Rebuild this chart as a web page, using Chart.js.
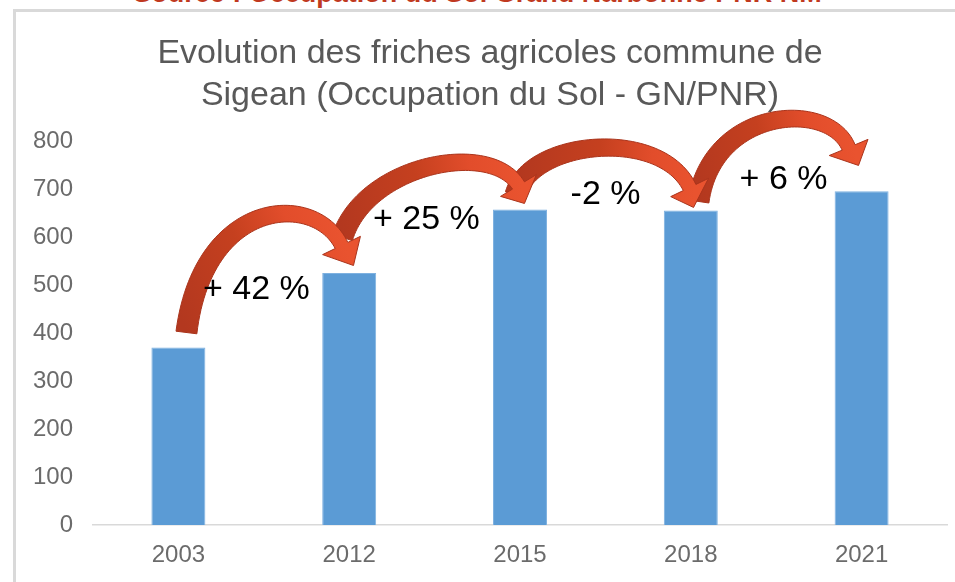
<!DOCTYPE html>
<html>
<head>
<meta charset="utf-8">
<script src="https://cdn.jsdelivr.net/npm/chart.js@4"></script>
<style>
  html, body { margin: 0; padding: 0; background: #fff; overflow: hidden; }
  #page { position: relative; width: 955px; height: 582px; overflow: hidden; background: #fff; }
  #source { position: absolute; left: 0; width: 955px; top: -22px; text-align: center;
            font: bold 27px "Liberation Sans", Arial, sans-serif; color: #c0391f; line-height: 30px; white-space: nowrap; }
  #frame { position: absolute; left: 13px; top: 9px; width: 1000px; height: 700px;
           border-left: 3px solid #d9d9d9; border-top: 3px solid #d9d9d9; box-sizing: border-box; background: #fff; }
  #wrap { position: absolute; left: 0; top: 0; width: 955px; height: 582px; }
</style>
</head>
<body>
<div id="page">
  <div id="frame"></div>
  <div id="source">Source : Occupation du Sol Grand Narbonne PNR NM</div>
  <div id="wrap"><canvas id="c" width="955" height="582"></canvas></div>
</div>
<script>
// ---- data ----
const categories = ["2003", "2012", "2015", "2018", "2021"];
const values = [370, 525, 657, 655, 695];
const yTicks = [0, 100, 200, 300, 400, 500, 600, 700, 800];
const titleLines = ["Evolution des friches agricoles commune de", "Sigean (Occupation du Sol - GN/PNR)"];
const changeLabels = ["+ 42 %", "+ 25 %", "-2 %", "+ 6 %"];
// label anchors in data space: [category position, value]
const changeLabelPos = [[0.457, 490.6], [1.452, 636.5], [2.501, 688.5], [3.543, 719.8]];
// curved arrows in data space: tail, control1, control2, head base, tip
const arrow1 = [[0.047, 401.0], [0.146, 682.3], [0.802, 695.0], [0.955, 582.3], [1.025, 540.6]];
const arrow2 = [[0.960, 599.0], [1.095, 751.0], [1.827, 803.1], [1.991, 707.3], [2.026, 669.8]];
const arrow3 = [[1.974, 688.5], [2.062, 803.1], [2.823, 828.1], [2.993, 703.1], [3.016, 661.5]];
const arrow4 = [[3.045, 674.0], [3.127, 869.8], [3.807, 886.5], [3.924, 786.5], [3.982, 749.0]];
const arrows = [arrow1, arrow2, arrow3, arrow4];

function drawArrow(ctx, xs, ys, pts) {
  const P = pts.map(p => ({ x: xs.getPixelForValue(p[0]), y: ys.getPixelForValue(p[1]) }));
  const [p0, p1, p2, p3, tip] = P;
  const N = 60, w0 = 21, w1 = 14, head = 21;
  const L = [], R = [];
  for (let i = 0; i <= N; i++) {
    const t = i / N, u = 1 - t;
    const x = u*u*u*p0.x + 3*u*u*t*p1.x + 3*u*t*t*p2.x + t*t*t*p3.x;
    const y = u*u*u*p0.y + 3*u*u*t*p1.y + 3*u*t*t*p2.y + t*t*t*p3.y;
    let dx = 3*u*u*(p1.x-p0.x) + 6*u*t*(p2.x-p1.x) + 3*t*t*(p3.x-p2.x);
    let dy = 3*u*u*(p1.y-p0.y) + 6*u*t*(p2.y-p1.y) + 3*t*t*(p3.y-p2.y);
    const len = Math.hypot(dx, dy) || 1; dx /= len; dy /= len;
    const nx = -dy, ny = dx;
    const w = (w0 + (w1 - w0) * t) / 2;
    L.push({ x: x + nx*w, y: y + ny*w, nx, ny, cx: x, cy: y });
    R.push({ x: x - nx*w, y: y - ny*w });
  }
  const end = L[N];
  const grad = ctx.createLinearGradient(p0.x, p0.y, tip.x, tip.y);
  grad.addColorStop(0, "#b3381f");
  grad.addColorStop(0.45, "#c5401f");
  grad.addColorStop(0.75, "#e24d2b");
  grad.addColorStop(1, "#e9532f");
  ctx.save();
  ctx.beginPath();
  ctx.moveTo(L[0].x, L[0].y);
  for (let i = 1; i <= N; i++) ctx.lineTo(L[i].x, L[i].y);
  ctx.lineTo(end.cx + end.nx*head, end.cy + end.ny*head);
  ctx.lineTo(tip.x, tip.y);
  ctx.lineTo(end.cx - end.nx*head, end.cy - end.ny*head);
  for (let i = N; i >= 0; i--) ctx.lineTo(R[i].x, R[i].y);
  ctx.closePath();
  ctx.fillStyle = grad;
  ctx.fill();
  ctx.lineWidth = 1;
  ctx.strokeStyle = "#a9341c";
  ctx.stroke();
  ctx.restore();
}

const annotations = {
  id: "annotations",
  afterDatasetsDraw(chart) {
    const ctx = chart.ctx, xs = chart.scales.x, ys = chart.scales.y;
    for (let i = arrows.length - 1; i >= 0; i--) drawArrow(ctx, xs, ys, arrows[i]);
    ctx.save();
    ctx.fillStyle = "#000";
    ctx.font = '34px "Liberation Sans", Arial, sans-serif';
    ctx.textAlign = "center";
    ctx.textBaseline = "middle";
    changeLabels.forEach((t, i) => {
      ctx.fillText(t, xs.getPixelForValue(changeLabelPos[i][0]), ys.getPixelForValue(changeLabelPos[i][1]));
    });
    ctx.restore();
  }
};

new Chart(document.getElementById("c"), {
  type: "bar",
  data: {
    labels: categories,
    datasets: [{
      data: values,
      backgroundColor: "#5b9bd5",
      borderColor: "#7eb1e0",
      borderWidth: 1,
      barPercentage: 0.316,
      categoryPercentage: 1.0
    }]
  },
  options: {
    responsive: false,
    animation: false,
    devicePixelRatio: 1,
    layout: { autoPadding: false, padding: { left: 33, right: 8, top: 0, bottom: 12 } },
    plugins: {
      legend: { display: false },
      tooltip: { enabled: false },
      title: {
        display: true,
        text: titleLines,
        color: "#595959",
        font: { family: '"Liberation Sans", Arial, sans-serif', size: 34, weight: "normal", lineHeight: 1.22 },
        padding: { top: 33, bottom: 25 }
      }
    },
    scales: {
      x: {
        grid: { display: false, drawTicks: false },
        border: { display: true, color: "#d9d9d9", width: 1.5 },
        ticks: { color: "#6b6b6b", padding: 16, maxRotation: 0, font: { family: '"Liberation Sans", Arial, sans-serif', size: 24 } },
        afterFit(axis) { axis.height = 45; }
      },
      y: {
        min: 0, max: 800,
        afterBuildTicks(axis) { axis.ticks = yTicks.map(v => ({ value: v })); },
        grid: { display: false, drawTicks: false },
        border: { display: false },
        ticks: { color: "#6b6b6b", padding: 20, font: { family: '"Liberation Sans", Arial, sans-serif', size: 24 } },
        afterFit(axis) { axis.width = 60; }
      }
    }
  },
  plugins: [annotations]
});
</script>
</body>
</html>
